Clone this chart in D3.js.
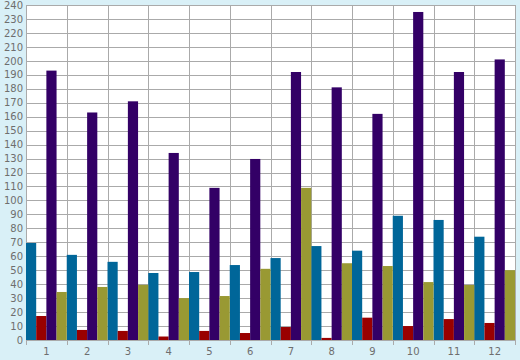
<!DOCTYPE html>
<html>
<head>
<meta charset="UTF-8" />
<style>
  body { margin: 0; padding: 0; background: #d9f0f7; }
  svg { display: block; }
  .tick text { font-family: "DejaVu Sans", sans-serif; font-size: 10px; fill: #6e6e6e; }
</style>
</head>
<body>
<svg id="chart" width="520" height="360"></svg>
<script src="https://d3js.org/d3.v7.min.js"></script>
<script>
  const categories = ["1","2","3","4","5","6","7","8","9","10","11","12"];
  const seriesBlue   = [69.5, 61, 56, 48, 48.7, 53.7, 58.7, 67.3, 64, 89, 86, 74];
  const seriesRed    = [17.2, 7.2, 6.5, 2.5, 6.5, 5, 9.3, 1.5, 16, 10, 15, 12.2];
  const seriesPurple = [193, 163, 171, 134, 109, 129.7, 192, 181, 162, 235, 192, 201];
  const seriesOlive  = [34.4, 38, 39.5, 30, 31.5, 51, 109, 55, 53, 41.5, 39.4, 50];
  const yTicks = d3.range(0, 241, 10);

  const series = [
    { values: seriesBlue, color: "#006699" },
    { values: seriesRed, color: "#990000" },
    { values: seriesPurple, color: "#330066" },
    { values: seriesOlive, color: "#999933" }
  ];

  const plotLeft = 26, plotRight = 515, plotTop = 5, plotBottom = 340;
  const svg = d3.select("#chart");

  const x = d3.scaleBand().domain(categories).range([plotLeft, plotRight]);
  const xs = d3.scaleBand().domain(d3.range(series.length)).range([0, x.bandwidth()]);
  const y = d3.scaleLinear().domain([0, 240]).range([plotBottom, plotTop]);

  svg.append("rect")
    .attr("x", plotLeft).attr("y", plotTop)
    .attr("width", plotRight - plotLeft).attr("height", plotBottom - plotTop)
    .attr("fill", "#fff");

  // horizontal grid
  svg.append("g").selectAll("line").data(yTicks).enter().append("line")
    .attr("x1", plotLeft).attr("x2", plotRight)
    .attr("y1", d => Math.round(y(d)) + 0.5).attr("y2", d => Math.round(y(d)) + 0.5)
    .attr("stroke", "#aaa");

  // vertical grid + tick marks
  const bounds = categories.map(c => x(c)).concat([plotRight]);
  svg.append("g").selectAll("line").data(bounds).enter().append("line")
    .attr("x1", d => Math.round(d) + 0.5).attr("x2", d => Math.round(d) + 0.5)
    .attr("y1", plotTop).attr("y2", plotBottom + 5)
    .attr("stroke", "#aaa");

  // bars
  series.forEach((s, i) => {
    svg.append("g").selectAll("rect").data(s.values).enter().append("rect")
      .attr("x", (d, j) => x(categories[j]) + xs(i))
      .attr("width", xs.bandwidth())
      .attr("y", d => y(d))
      .attr("height", d => plotBottom - y(d))
      .attr("fill", s.color);
  });

  const yAxis = d3.axisLeft(y).tickValues(yTicks).tickSize(0).tickPadding(3);
  svg.append("g").attr("transform", `translate(${plotLeft},0)`).call(yAxis)
    .call(g => g.select(".domain").remove());

  const xAxis = d3.axisBottom(x).tickSize(0).tickPadding(8);
  svg.append("g").attr("transform", `translate(0,${plotBottom})`).call(xAxis)
    .call(g => g.select(".domain").remove());
</script>
</body>
</html>
